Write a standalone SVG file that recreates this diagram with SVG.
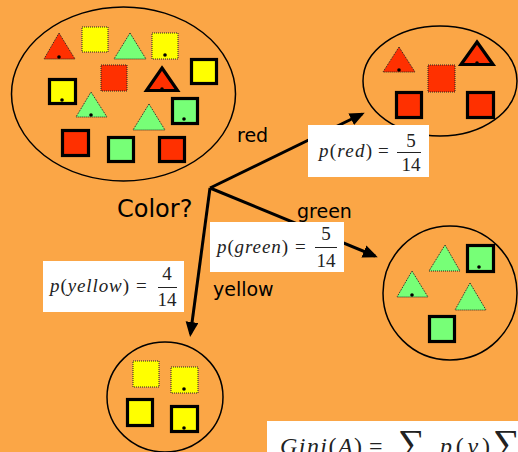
<svg xmlns="http://www.w3.org/2000/svg" width="518" height="452" viewBox="0 0 518 452">
<style>
.set{fill:none;stroke:#000;stroke-width:1.5}
.dot{fill:none;stroke:#222;stroke-width:1;stroke-dasharray:1 1}
.thk{stroke:#000;stroke-width:3.2}
.r{fill:#FF3000}.y{fill:#FFFF00}.g{fill:#77FF77}
.pt{fill:#000}
.conn{stroke:#000;stroke-width:3;fill:none}
.lbl{font-family:"DejaVu Sans",sans-serif;font-size:19px;fill:#000}
.box{fill:#fff}
.m{font-family:"Liberation Serif",serif;font-size:19px;fill:#222}
.mi{font-style:italic}
.bar{stroke:#222;stroke-width:1}
</style>
<defs>
<marker id="ah" markerUnits="userSpaceOnUse" markerWidth="16" markerHeight="14" refX="12" refY="6.5" orient="auto">
<path d="M0,0 L15,6.5 L0,13 z" fill="#000"/>
</marker>
</defs>
<rect width="518" height="452" fill="#FBA646"/>

<g id="connectors">
<path class="conn" d="M210,188 L362,114" marker-end="url(#ah)"/>
<path class="conn" d="M210,188 L375,256" marker-end="url(#ah)"/>
<path class="conn" d="M210,188 L190.5,334" marker-end="url(#ah)"/>
</g>

<g id="all">
<ellipse class="set" cx="123.5" cy="94" rx="112" ry="87"/>
<polygon class="r dot" points="59,33 75,59 44,59"/><circle class="pt" cx="59" cy="57" r="1.8"/>
<rect class="y dot" x="82" y="27" width="26" height="25"/>
<polygon class="g dot" points="130,33 146,59 114,59"/>
<rect class="y dot" x="152" y="33" width="26" height="26"/><circle class="pt" cx="165" cy="55" r="1.8"/>
<rect class="r dot" x="101" y="65" width="26" height="26"/>
<polygon class="r thk" points="162,68 177.5,90.5 146.5,90.5"/><circle class="pt" cx="162" cy="89" r="1.8"/>
<rect class="y thk" x="191.5" y="59.5" width="25" height="24"/>
<rect class="y thk" x="49.5" y="79.5" width="26" height="24"/><circle class="pt" cx="62" cy="100" r="1.8"/>
<polygon class="g dot" points="91,92 107,117 76,117"/><circle class="pt" cx="91" cy="115" r="1.8"/>
<polygon class="g dot" points="149,104 165,130 133,130"/>
<rect class="g thk" x="172.5" y="98.5" width="25" height="25"/><circle class="pt" cx="184" cy="119" r="1.8"/>
<rect class="r thk" x="62.5" y="130.5" width="26" height="25"/>
<rect class="g thk" x="108.5" y="137.5" width="25" height="24"/>
<rect class="r thk" x="159.5" y="137.5" width="25" height="24"/>
</g>

<g id="red-set">
<ellipse class="set" cx="440" cy="81" rx="77" ry="55"/>
<polygon class="r dot" points="399,47 415,72 383,72"/><circle class="pt" cx="399" cy="70" r="1.8"/>
<rect class="r dot" x="428" y="65" width="27" height="27"/>
<polygon class="r thk" points="477,42 493,64.5 461,64.5"/><circle class="pt" cx="477" cy="63" r="1.8"/>
<rect class="r thk" x="396.5" y="92.5" width="25" height="25"/>
<rect class="r thk" x="467.5" y="92.5" width="26" height="25"/>
</g>

<g id="green-set">
<ellipse class="set" cx="450" cy="293" rx="67" ry="67"/>
<polygon class="g dot" points="445,245 460,271 429,271"/>
<rect class="g thk" x="467.5" y="245.5" width="26" height="26"/><circle class="pt" cx="479" cy="267" r="1.8"/>
<polygon class="g dot" points="412,271 428,297 397,297"/><circle class="pt" cx="412" cy="295" r="1.8"/>
<polygon class="g dot" points="470,283 486,310 455,310"/>
<rect class="g thk" x="429.5" y="316.5" width="25" height="25"/>
</g>

<g id="yellow-set">
<ellipse class="set" cx="165" cy="397" rx="58" ry="55"/>
<rect class="y dot" x="133" y="361" width="26" height="26"/>
<rect class="y dot" x="171" y="367" width="27" height="26"/><circle class="pt" cx="184" cy="389" r="1.8"/>
<rect class="y thk" x="127.5" y="399.5" width="25" height="26"/>
<rect class="y thk" x="171.5" y="406.5" width="26" height="25"/><circle class="pt" cx="184" cy="428" r="1.8"/>
</g>

<g id="labels">
<text class="lbl" x="237" y="142">red</text>
<text class="lbl" x="297" y="218">green</text>
<text class="lbl" x="213" y="296">yellow</text>
<text class="lbl" x="117" y="217" style="font-size:24px">Color?</text>
</g>

<g id="p-red">
<rect class="box" x="308" y="125" width="121" height="52"/>
<text class="m" x="319" y="157" textLength="53" lengthAdjust="spacing"><tspan class="mi">p</tspan>(<tspan class="mi">red</tspan>)</text>
<text class="m" x="378" y="157">=</text>
<text class="m" x="411" y="147" text-anchor="middle">5</text>
<line class="bar" x1="397" y1="152.5" x2="421" y2="152.5"/>
<text class="m" x="411" y="171" text-anchor="middle">14</text>
</g>

<g id="p-green">
<rect class="box" x="210" y="222" width="134" height="50"/>
<text class="m" x="217" y="253" textLength="71" lengthAdjust="spacing"><tspan class="mi">p</tspan>(<tspan class="mi">green</tspan>)</text>
<text class="m" x="295" y="253">=</text>
<text class="m" x="326" y="240" text-anchor="middle">5</text>
<line class="bar" x1="315" y1="247.5" x2="337" y2="247.5"/>
<text class="m" x="326" y="267" text-anchor="middle">14</text>
</g>

<g id="p-yellow">
<rect class="box" x="43" y="261" width="141" height="51"/>
<text class="m" x="50" y="292" textLength="79" lengthAdjust="spacing"><tspan class="mi">p</tspan>(<tspan class="mi">yellow</tspan>)</text>
<text class="m" x="136" y="292">=</text>
<text class="m" x="167" y="280" text-anchor="middle">4</text>
<line class="bar" x1="158" y1="287.5" x2="177" y2="287.5"/>
<text class="m" x="167" y="306" text-anchor="middle">14</text>
</g>

<g id="gini">
<rect class="box" x="267" y="421" width="260" height="40"/>
<text class="m" x="280" y="454" style="font-size:24px" textLength="82" lengthAdjust="spacing"><tspan class="mi">Gini</tspan>(<tspan class="mi">A</tspan>)</text>
<text class="m" x="369" y="454" style="font-size:24px">=</text>
<text class="m" x="398" y="456" style="font-size:38px">∑</text>
<text class="m" x="440" y="454" style="font-size:24px" textLength="50" lengthAdjust="spacing"><tspan class="mi">p</tspan>(<tspan class="mi">v</tspan>)</text>
<text class="m" x="493" y="456" style="font-size:38px">∑</text>
</g>
</svg>
